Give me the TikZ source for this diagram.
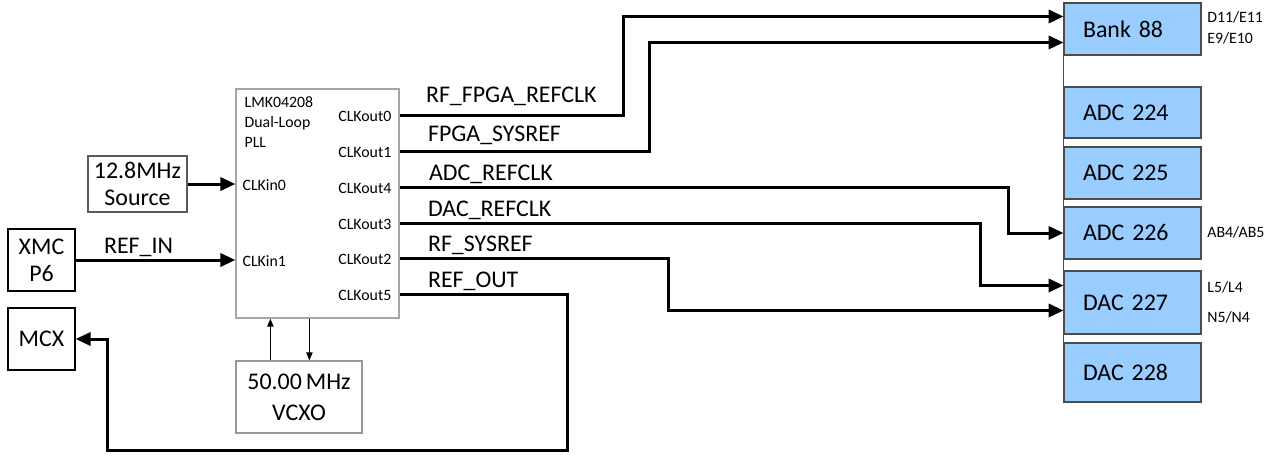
\documentclass[tikz,border=0pt]{standalone}
\usepackage{fontspec}
\setmainfont{Carlito}
\usetikzlibrary{arrows.meta,calc}
\definecolor{boxblue}{RGB}{153,204,255}
\begin{document}
\begin{tikzpicture}[x=0.02cm,y=-0.02cm,
  big/.style={font=\fontsize{13.6}{15.5}\selectfont},
  small/.style={font=\fontsize{9}{10.5}\selectfont},
  sig/.style={line width=1.7pt,-{Triangle[length=8.5pt,width=7.5pt]}},
  thinarrow/.style={line width=0.7pt,-{Triangle[length=4.5pt,width=3.6pt]}},
  bluebox/.style={draw=black!70,fill=boxblue,line width=0.6pt,minimum width=2.74cm,
    text width=1.98cm,inner xsep=0.38cm,inner ysep=0pt,align=left,big},
  greybox/.style={draw=black!40,line width=0.7pt,inner sep=0pt,align=center,big},
  blackbox/.style={draw=black,line width=0.8pt,inner sep=0pt,align=center,big},
  lbl/.style={big,inner sep=0pt},
  port/.style={small,inner sep=0pt}]
\useasboundingbox (0,0) rectangle (1273,454);

% right column
\node[bluebox,minimum height=1.04cm] (bank) at (1132.5,29) {Bank 88};
\node[bluebox,minimum height=1.02cm] (adc224) at (1132.5,112.5) {ADC 224};
\node[bluebox,minimum height=1.04cm] (adc225) at (1132.5,173) {ADC 225};
\node[bluebox,minimum height=1.04cm] (adc226) at (1132.5,233) {ADC 226};
\node[bluebox,minimum height=1.26cm] (dac227) at (1132.5,302.5) {DAC 227};
\node[bluebox,minimum height=1.18cm] (dac228) at (1132.5,372.5) {DAC 228};
\draw[black!70,line width=0.6pt] (bank.north west) -- (dac228.south west);

\node[port,anchor=west] (pa) at (1207,17) {D11/E11};
\node[port,anchor=west] (pb) at (1207,38) {E9/E10};
\node[port,anchor=west] (pc) at (1207,232) {AB4/AB5};
\node[port,anchor=west] (pd) at (1207,287) {L5/L4};
\node[port,anchor=west] (pe) at (1207,317) {N5/N4};

% PLL
\node[draw=black!35,line width=0.8pt,minimum width=3.26cm,minimum height=4.58cm,inner sep=0pt] (lmk) at (317.5,203.5) {};
\node[port,anchor=north west,align=left] (lmkt) at ($(lmk.north west)+(9,8)$) {LMK04208\\[1pt]Dual-Loop\\[1pt]PLL};

\coordinate (p0) at ($(lmk.north east)+(0,27)$);
\coordinate (p1) at ($(lmk.north east)+(0,63)$);
\coordinate (p4) at ($(lmk.north east)+(0,99)$);
\coordinate (p3) at ($(lmk.north east)+(0,135)$);
\coordinate (p2) at ($(lmk.north east)+(0,170)$);
\coordinate (p5) at ($(lmk.north east)+(0,206)$);

\node[port,anchor=east] (c0) at ($(p0)+(-8,1)$) {CLKout0};
\node[port,anchor=east] (c1) at ($(p1)+(-8,1)$) {CLKout1};
\node[port,anchor=east] (c4) at ($(p4)+(-8,1)$) {CLKout4};
\node[port,anchor=east] (c3) at ($(p3)+(-8,1)$) {CLKout3};
\node[port,anchor=east] (c2) at ($(p2)+(-8,1)$) {CLKout2};
\node[port,anchor=east] (c5) at ($(p5)+(-8,1)$) {CLKout5};

% sources
\node[draw=black!65,line width=0.7pt,inner sep=0pt,align=center,big,minimum width=1.98cm,minimum height=1.12cm] (src) at (137.5,184) {12.8MHz\\Source};
\node[blackbox,minimum width=1.34cm,minimum height=1.24cm] (xmc) at (41.5,260) {XMC\\P6};
\node[blackbox,minimum width=1.34cm,minimum height=1.24cm] (mcx) at (41.5,339) {MCX};
\node[greybox,minimum width=2.52cm,minimum height=1.44cm] (vcxo) at (299,397) {50.00\,MHz\\[2pt]VCXO};

\node[port,anchor=west] (ci0) at ($(src.east -| lmk.west)+(7,1)$) {CLKin0};
\node[port,anchor=west] (ci1) at ($(xmc.east -| lmk.west)+(7,1)$) {CLKin1};

\draw[sig] (src.east) -- (src.east -| lmk.west);
\draw[sig] (xmc.east) -- (xmc.east -| lmk.west);
\node[lbl,anchor=base west] (refin) at ($(xmc.east)+(28,-7)$) {REF\_IN};

% VCXO loop
\coordinate (vu) at ($(vcxo.north west)+(35,0)$);
\coordinate (vd) at ($(vcxo.north west)+(74,0)$);
\draw[thinarrow] (vu) -- (vu |- lmk.south);
\draw[thinarrow] (vd |- lmk.south) -- (vd);

% outputs
\coordinate (b0) at ($(bank.north west)+(0,14)$);
\coordinate (b1) at ($(bank.north west)+(0,40)$);
\coordinate (d0) at ($(dac227.north west)+(0,15)$);
\coordinate (d1) at ($(dac227.north west)+(0,40)$);
\coordinate (m0) at ($(mcx.east)+(32,0)$);

\draw[sig] (p0) -- ++(224,0) |- (b0);
\draw[sig] (p1) -- ++(250,0) |- (b1);
\draw[sig] (p4) -- ++(609,0) |- (adc226.west);
\draw[sig] (p3) -- ++(581,0) |- (d0);
\draw[sig] (p2) -- ++(269,0) |- (d1);
\draw[sig,line join=miter] (p5) -- ++(168,0) -- ++(0,156) -| (m0) -- (mcx.east);

\node[lbl,anchor=base west] (s0) at ($(p0)+(26,-13)$) {RF\_FPGA\_REFCLK};
\node[lbl,anchor=base west] (s1) at ($(p1)+(28,-10)$) {FPGA\_SYSREF};
\node[lbl,anchor=base west] (s4) at ($(p4)+(29,-7)$) {ADC\_REFCLK};
\node[lbl,anchor=base west] (s3) at ($(p3)+(28,-7)$) {DAC\_REFCLK};
\node[lbl,anchor=base west] (s2) at ($(p2)+(28,-7)$) {RF\_SYSREF};
\node[lbl,anchor=base west] (s5) at ($(p5)+(28,-7)$) {REF\_OUT};
\end{tikzpicture}
\end{document}
